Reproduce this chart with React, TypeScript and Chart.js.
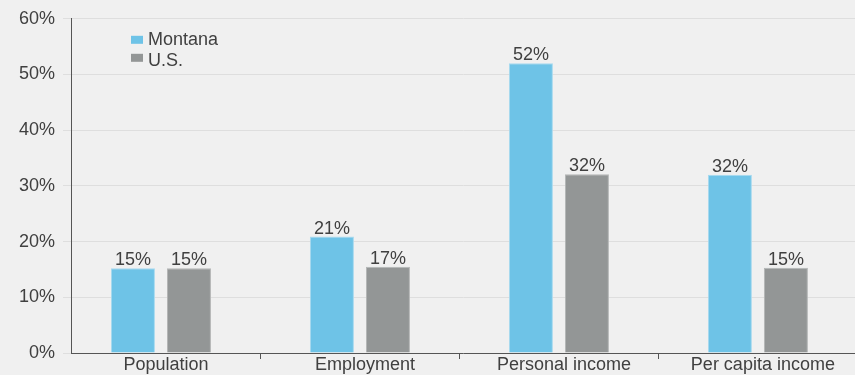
import React, { useEffect, useRef } from 'react';
import { Chart, registerables } from 'chart.js';

Chart.register(...registerables);

const categories = ['Population', 'Employment', 'Personal income', 'Per capita income'];
const seriesNames = ['Montana', 'U.S.'];
const montanaValues = [15.2, 20.9, 52, 32];
const usValues = [15.2, 15.5, 32.1, 15.3];
const montanaLabels = ['15%', '21%', '52%', '32%'];
const usLabels = ['15%', '17%', '32%', '15%'];
const yTicks = [0, 10, 20, 30, 40, 50, 60];
const xTickPositions = [0, 0.5, 1, 1.5, 2, 2.5, 3];

const FONT = "'Liberation Sans', Arial, Helvetica, sans-serif";
const FS = 18;
const TEXT = '#404040';
const BLUE = '#6ec3e7';
const GRAY = '#939696';

const bgPlugin = {
  id: 'bg',
  beforeDraw(chart: any) {
    const { ctx, width, height } = chart;
    ctx.save();
    ctx.fillStyle = '#f0f0f0';
    ctx.fillRect(0, 0, width, height);
    ctx.restore();
  },
};

const valueLabelPlugin = {
  id: 'valueLabels',
  afterDatasetsDraw(chart: any) {
    const { ctx } = chart;
    const labelSets = [montanaLabels, usLabels];
    ctx.save();
    ctx.font = `${FS}px ${FONT}`;
    ctx.fillStyle = TEXT;
    ctx.textAlign = 'center';
    ctx.textBaseline = 'alphabetic';
    chart.data.datasets.forEach((_ds: any, di: number) => {
      const meta = chart.getDatasetMeta(di);
      meta.data.forEach((el: any, i: number) => {
        ctx.fillText(labelSets[di][i], el.x, el.y - 3);
      });
    });
    ctx.restore();
  },
};

const legendPlugin = {
  id: 'innerLegend',
  afterDraw(chart: any) {
    const { ctx, chartArea } = chart;
    ctx.save();
    ctx.font = `${FS}px ${FONT}`;
    ctx.textBaseline = 'alphabetic';
    ctx.textAlign = 'left';
    chart.data.datasets.forEach((ds: any, i: number) => {
      const x = chartArea.left + 60;
      ctx.fillStyle = ds.backgroundColor;
      ctx.fillRect(x, chartArea.top + 17 + i * 18, 12, 8);
      ctx.fillStyle = TEXT;
      ctx.fillText(ds.label, x + 17, chartArea.top + 26 + i * 21);
    });
    ctx.restore();
  },
};

export default function App() {
  const ref = useRef<HTMLCanvasElement>(null);

  useEffect(() => {
    document.body.style.margin = '0';
    const canvas = ref.current!;
    const chart = new Chart(canvas, {
      type: 'bar',
      data: {
        datasets: [
          {
            label: seriesNames[0],
            data: montanaValues.map((v, i) => ({ x: i, y: v })),
            backgroundColor: BLUE,
            borderColor: '#a6d9ef',
            borderWidth: 1,
          },
          {
            label: seriesNames[1],
            data: usValues.map((v, i) => ({ x: i, y: v })),
            backgroundColor: GRAY,
            borderColor: '#b3b5b5',
            borderWidth: 1,
          },
        ],
      },
      options: {
        animation: false,
        responsive: false,
        maintainAspectRatio: false,
        devicePixelRatio: 1,
        layout: { padding: { top: 17, left: 0, right: 0, bottom: 0 } },
        datasets: {
          bar: { categoryPercentage: 1.126, barPercentage: 0.786 },
        } as any,
        plugins: {
          legend: { display: false },
          tooltip: { enabled: false },
        },
        scales: {
          x: {
            type: 'linear',
            offset: false,
            min: -0.452,
            max: 3.488,
            afterBuildTicks: (scale: any) => {
              scale.ticks = xTickPositions.map((v) => ({ value: v }));
            },
            afterFit: (scale: any) => {
              scale.height = 22;
            },
            border: { display: true, color: '#555555', width: 1 },
            grid: {
              display: true,
              offset: false,
              drawOnChartArea: false,
              drawTicks: true,
              tickLength: 6,
              tickColor: (ctx: any) =>
                ctx.tick && ctx.tick.value % 1 !== 0 ? '#555555' : 'rgba(0,0,0,0)',
            },
            ticks: {
              autoSkip: false,
              maxRotation: 0,
              minRotation: 0,
              padding: -5,
              labelOffset: 5,
              color: TEXT,
              font: { family: FONT, size: FS },
              callback: (v: any) => (Number.isInteger(v) ? categories[v] : ''),
            },
          },
          y: {
            type: 'linear',
            min: 0,
            max: 60,
            afterBuildTicks: (scale: any) => {
              scale.ticks = yTicks.map((v) => ({ value: v }));
            },
            afterFit: (scale: any) => {
              scale.width = 71;
            },
            border: { display: true, color: '#555555', width: 1 },
            grid: {
              color: '#dedede',
              lineWidth: 1,
              tickLength: 8,
            },
            ticks: {
              padding: 8,
              color: TEXT,
              font: { family: FONT, size: FS },
              callback: (v: any) => `${v}%`,
            },
          },
        },
      },
      plugins: [bgPlugin, valueLabelPlugin, legendPlugin],
    });
    return () => chart.destroy();
  }, []);

  return (
    <div style={{ width: 855, height: 375, background: '#f0f0f0' }}>
      <canvas ref={ref} width={855} height={375} style={{ display: 'block' }} />
    </div>
  );
}
